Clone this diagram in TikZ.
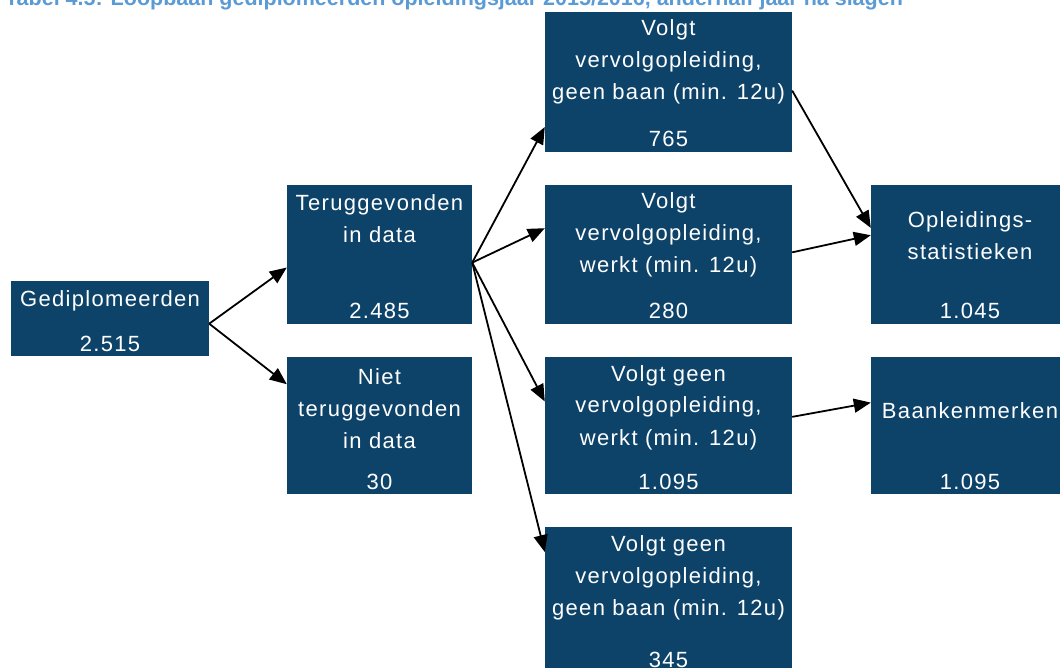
\documentclass[tikz,border=0pt]{standalone}
\usepackage{fontspec}
\setmainfont{Liberation Sans}
\newfontfamily\boxfont[LetterSpace=6]{Liberation Sans}
\usepackage{xcolor}
\usetikzlibrary{arrows.meta, positioning}

\definecolor{boxblue}{HTML}{0E4369}
\definecolor{titleblue}{HTML}{5B9BD5}

% stacked lines, baseline on the first line
\newcommand{\boxlines}[1]{\begin{tabular}[t]{@{}c@{}}#1\end{tabular}}

\begin{document}
\begin{tikzpicture}[x=1pt, y=-1pt,
    box/.style={rectangle, fill=boxblue, inner sep=0pt, minimum width=247, minimum height=139},
    txt/.style={text=white, font=\boxfont\fontsize{22}{32}\selectfont, inner sep=0pt, anchor=base},
    arrow/.style={-{Triangle[length=17pt, width=14pt]}, line width=1.8pt},
    title/.style={text=titleblue, font=\bfseries\fontsize{21.5}{25}\selectfont, inner sep=0pt, anchor=base west}
]
\useasboundingbox (0,0) rectangle (1060,668);
\clip (0,0) rectangle (1060,668);

% Title (cut off at the top)
\node[title] (title) at (5,6) {Tabel 4.5: Loopbaan gediplomeerden opleidingsjaar 2015/2016, anderhalf jaar na slagen};

% Gediplomeerden
\node[box, minimum width=198, minimum height=75] (gedipl) at (110,318.5) {};
\node[txt] (gediplText) at (110,307) {Gediplomeerden};
\node[txt] (gediplNum) at (110,351) {2.515};

% Found / not found
\node[box, minimum width=185] (terug) at (379.5,254.5) {};
\node[txt] (terugText) at (379.5,211) {\boxlines{Teruggevonden\\in data}};
\node[txt] (terugNum) at (379.5,319) {2.485};

\node[box, minimum width=185, minimum height=137] (niet) at (379.5,425.5) {};
\node[txt] (nietText) at (379.5,384) {\boxlines{Niet\\teruggevonden\\in data}};
\node[txt] (nietNum) at (379.5,489) {30};

% Outcomes
\node[box, minimum height=140] (vervGeen) at (668.5,82) {};
\node[txt] (vervGeenText) at (668.5,36) {\boxlines{Volgt\\vervolgopleiding,\\geen baan (min. 12u)}};
\node[txt] (vervGeenNum) at (668.5,147) {765};

\node[box] (vervWerkt) at (668.5,254.5) {};
\node[txt] (vervWerktText) at (668.5,209) {\boxlines{Volgt\\vervolgopleiding,\\werkt (min. 12u)}};
\node[txt] (vervWerktNum) at (668.5,319) {280};

\node[box, minimum height=137] (geenWerkt) at (668.5,425.5) {};
\node[txt] (geenWerktText) at (668.5,381) {\boxlines{Volgt geen\\vervolgopleiding,\\werkt (min. 12u)}};
\node[txt] (geenWerktNum) at (668.5,489) {1.095};

\node[box, minimum height=145] (geenGeen) at (668.5,599.5) {};
\node[txt] (geenGeenText) at (668.5,551) {\boxlines{Volgt geen\\vervolgopleiding,\\geen baan (min. 12u)}};
\node[txt] (geenGeenNum) at (668.5,667) {345};

% Statistics
\node[box, minimum width=198] (opl) at (970,254.5) {};
\node[txt] (oplText) at (970,228) {\boxlines{Opleidings-\\statistieken}};
\node[txt] (oplNum) at (970,319) {1.045};

\node[box, minimum width=198, minimum height=137] (baan) at (970,425.5) {};
\node[txt] (baanText) at (970,418) {Baankenmerken};
\node[txt] (baanNum) at (970,489) {1.095};

% Arrows
\draw[arrow] (gedipl.357) -- (terug.188);
\draw[arrow] (gedipl.357) -- (niet.156);
\draw[arrow] (terug.355) -- (vervGeen.200);
\draw[arrow] (terug.355) -- (vervWerkt.168);
\draw[arrow] (terug.355) -- (geenWerkt.169);
\draw[arrow] (terug.355) -- (geenGeen.159);
\draw[arrow] (vervGeen.356) -- (opl.165);
\draw[arrow] (vervWerkt.1) -- (opl.169);
\draw[arrow] (geenWerkt.4) -- (baan.167);

\end{tikzpicture}
\end{document}
